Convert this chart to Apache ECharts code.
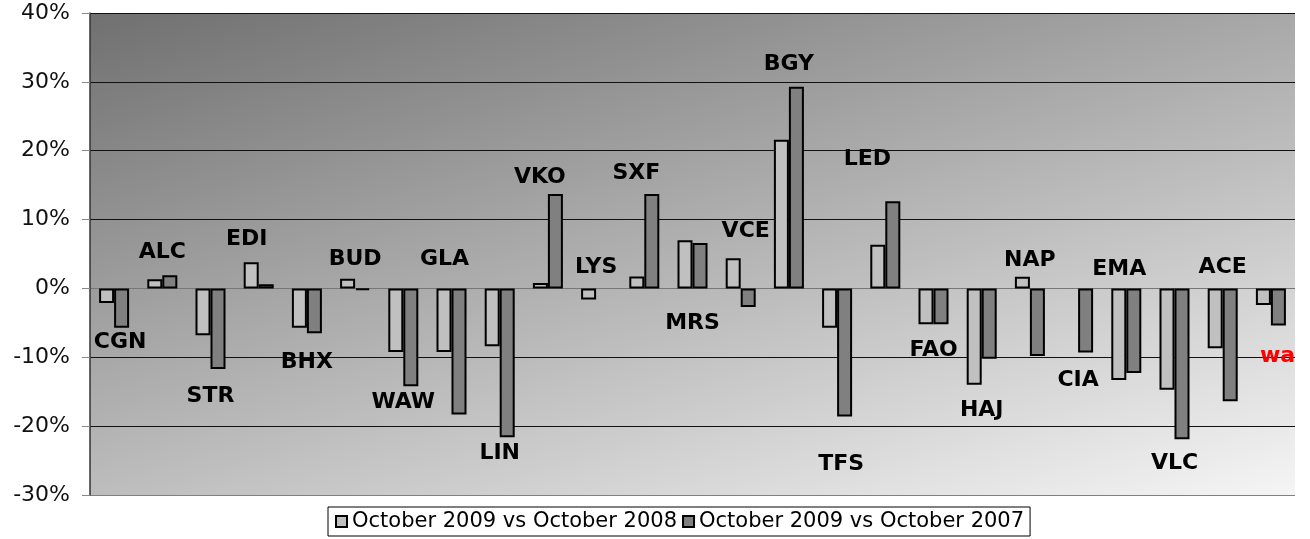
<!DOCTYPE html>
<html>
<head>
<meta charset="utf-8">
<script src="https://cdn.jsdelivr.net/npm/echarts@6/dist/echarts.min.js"></script>
<style>
html,body{margin:0;padding:0;background:#fff;}
#chart{width:1295px;height:539px;overflow:hidden;}
</style>
</head>
<body>
<div id="chart"></div>
<script>
const categories = ['CGN','ALC','STR','EDI','BHX','BUD','WAW','GLA','LIN','VKO','LYS','SXF','MRS','VCE','BGY','TFS','LED','FAO','HAJ','NAP','CIA','EMA','VLC','ACE','wa'];
const vs2008 = [-2.1, 1.35, -6.8, 3.8, -5.7, 1.4, -9.25, -9.25, -8.4, 0.8, -1.6, 1.75, 7.0, 4.4, 21.6, -5.7, 6.35, -5.2, -14.0, 1.7, null, -13.3, -14.7, -8.7, -2.4];
const vs2007 = [-5.7, 1.9, -11.7, 0.6, -6.5, -0.25, -14.2, -18.3, -21.6, 13.7, null, 13.7, 6.6, -2.7, 29.3, -18.6, 12.65, -5.2, -10.2, -9.8, -9.3, -12.3, -21.9, -16.4, -5.4];
const labelPos = [-7.8, 5.2, -15.65, 7.2, -10.7, 4.3, -16.5, 4.3, -24.0, 16.2, 3.1, 16.7, -5.0, 8.3, 32.5, -25.5, 18.7, -9.0, -17.7, 4.1, -13.4, 2.8, -25.4, 3.0, -9.9];
const seriesNames = ['October 2009 vs October 2008', 'October 2009 vs October 2007'];
const yTicks = {min: -30, max: 40, interval: 10};

// small horizontal nudges of some airport labels (style only)
const labelNudge = {CGN: 6, EDI: -12, GLA: -7, VKO: -8, SXF: -8, VCE: 5, TFS: 4, LED: -18, EMA: -7};

const chart = echarts.init(document.getElementById('chart'), null, {renderer: 'canvas'});

const labelData = categories.map((c, i) => {
  const item = {value: [c, labelPos[i]], name: c};
  if (i === categories.length - 1) {
    item.label = {color: '#ff0000', align: 'left', offset: [-11, 0]};
  } else if (labelNudge[c]) {
    item.label = {offset: [labelNudge[c], 0]};
  }
  return item;
});

const option = {
  animation: false,
  backgroundColor: '#ffffff',
  textStyle: {fontFamily: 'DejaVu Sans'},
  grid: {
    left: 90, right: 0, top: 13, bottom: 44,
    show: true,
    borderWidth: 0,
    backgroundColor: new echarts.graphic.LinearGradient(0, 0, 0.185, 1.593, [
      {offset: 0, color: '#707070'},
      {offset: 1, color: '#f5f5f5'}
    ])
  },
  legend: {
    data: seriesNames,
    left: 328, top: 507,
    padding: [4, 6, 4, 7],
    itemGap: 5,
    itemWidth: 11, itemHeight: 11,
    icon: 'rect',
    borderColor: '#000', borderWidth: 1,
    backgroundColor: '#fff',
    textStyle: {fontFamily: 'DejaVu Sans', fontSize: 21, color: '#000'},
    selectedMode: false
  },
  xAxis: {
    type: 'category',
    data: categories,
    axisLine: {show: false},
    axisTick: {show: false},
    axisLabel: {show: false},
    splitLine: {show: false}
  },
  yAxis: {
    type: 'value',
    min: yTicks.min, max: yTicks.max, interval: yTicks.interval,
    axisLine: {show: true, lineStyle: {color: '#333', width: 1.5}},
    axisTick: {show: true, length: 8, lineStyle: {color: '#888'}},
    axisLabel: {formatter: '{value}%', fontFamily: 'DejaVu Sans', fontSize: 22, color: '#111', margin: 20},
    splitLine: {show: true, showMinLine: true, showMaxLine: true, lineStyle: {color: ['#808080', '#111', '#111', '#777', '#111', '#111', '#111', '#111'], width: 1.2}}
  },
  series: [
    {
      name: seriesNames[0], type: 'bar', data: vs2008,
      barWidth: 15, barGap: '0%',
      itemStyle: {color: '#c0c0c0', borderColor: '#000', borderWidth: 2},
      z: 3
    },
    {
      name: seriesNames[1], type: 'bar', data: vs2007,
      barWidth: 15, barGap: '0%',
      itemStyle: {color: '#808080', borderColor: '#000', borderWidth: 2},
      z: 3
    },
    {
      name: 'labels', type: 'scatter', data: labelData,
      symbolSize: 0, silent: true, z: 5, clip: false,
      itemStyle: {opacity: 1},
      label: {
        show: true, position: 'inside',
        formatter: p => p.name,
        fontFamily: 'DejaVu Sans', fontWeight: 'bold', fontSize: 22, color: '#000'
      }
    }
  ]
};
chart.setOption(option);
</script>
</body>
</html>
